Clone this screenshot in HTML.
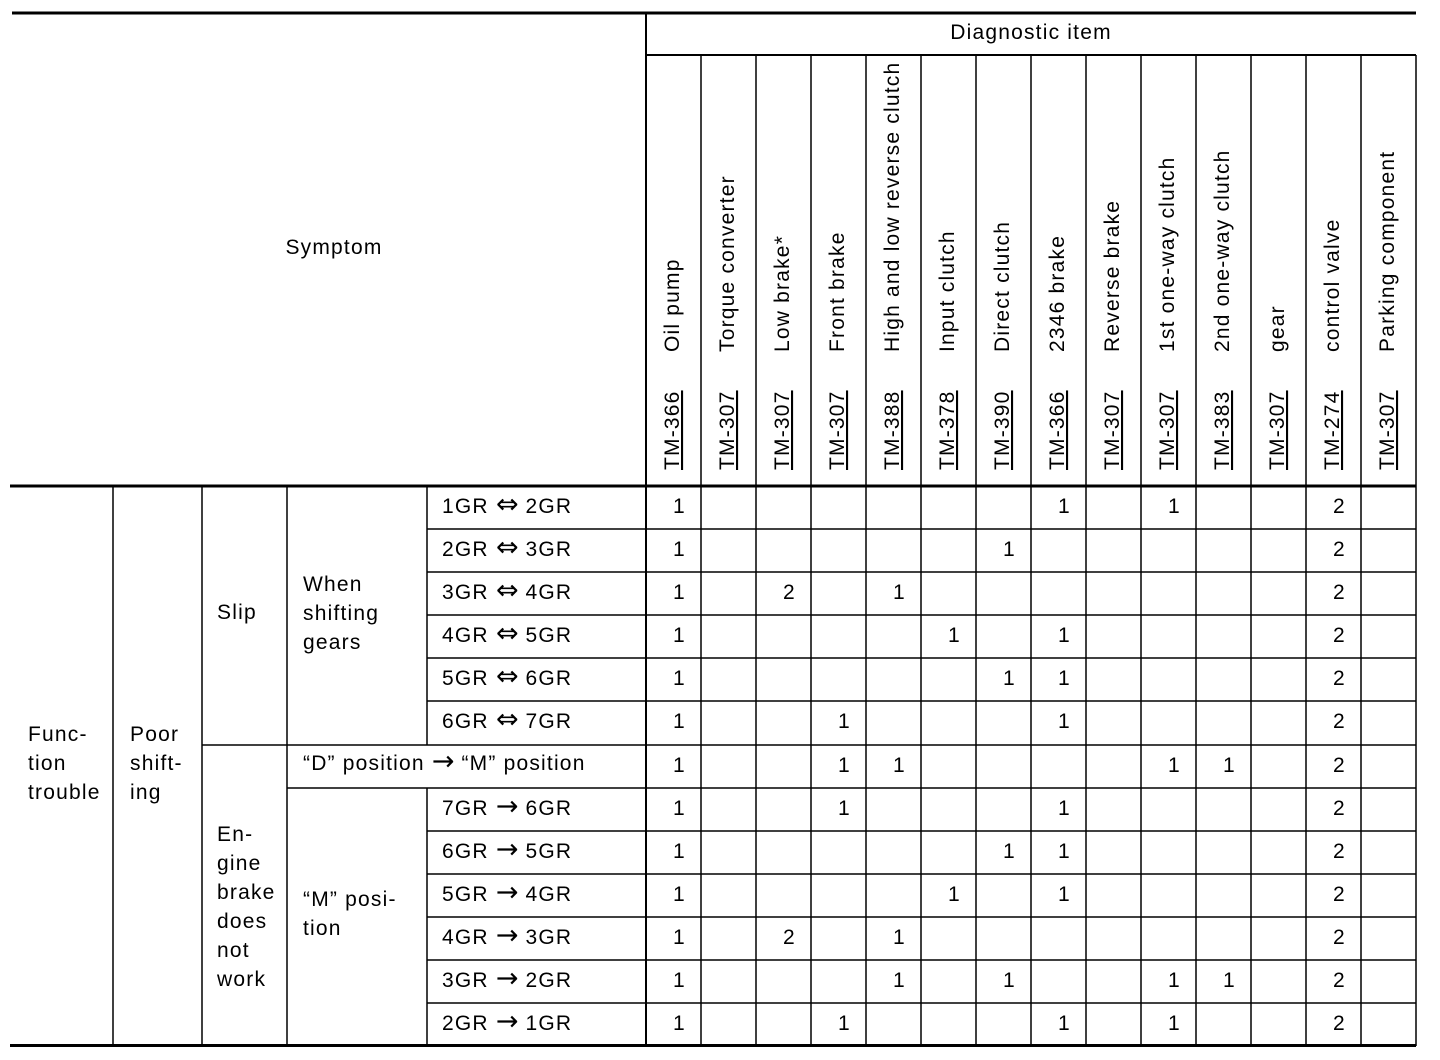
<!DOCTYPE html>
<html><head><meta charset="utf-8"><style>
html,body{margin:0;padding:0;background:#fff}
svg{display:block}
text{font-family:"Liberation Sans",Arial,sans-serif;font-size:21px;letter-spacing:1.2px;fill:#000}
.ar{font-family:"DejaVu Sans",sans-serif;letter-spacing:0;font-size:27px}
</style></head><body>
<svg width="1440" height="1060" viewBox="0 0 1440 1060" xmlns="http://www.w3.org/2000/svg">
<g stroke="#000" fill="none">
<line x1="12" y1="13" x2="1416" y2="13" stroke-width="3"/>
<line x1="10" y1="486" x2="1416" y2="486" stroke-width="3"/>
<line x1="10" y1="1045.5" x2="1416" y2="1045.5" stroke-width="3"/>
<line x1="646" y1="55" x2="1416" y2="55" stroke-width="2"/>
<line x1="646" y1="13" x2="646" y2="1046" stroke-width="2"/>
<line x1="113" y1="486" x2="113" y2="1046" stroke-width="1.5"/>
<line x1="202" y1="486" x2="202" y2="1046" stroke-width="1.5"/>
<line x1="287" y1="486" x2="287" y2="1046" stroke-width="1.5"/>
<line x1="427" y1="486" x2="427" y2="745" stroke-width="1.5"/>
<line x1="427" y1="788" x2="427" y2="1046" stroke-width="1.5"/>
<line x1="202" y1="745" x2="1416" y2="745" stroke-width="1.5"/>
<line x1="287" y1="788" x2="1416" y2="788" stroke-width="1.5"/>
</g>
<g id="grid" stroke="#000" stroke-width="1.5"></g>
<g id="txt"></g>
<text x="334" y="254" text-anchor="middle">Symptom</text>
<text x="1031" y="39" text-anchor="middle">Diagnostic item</text>
<text x="28" y="741">Func-</text><text x="28" y="770">tion</text><text x="28" y="799">trouble</text>
<text x="130" y="741">Poor</text><text x="130" y="770">shift-</text><text x="130" y="799">ing</text>
<text x="217" y="619">Slip</text>
<text x="303" y="591">When</text><text x="303" y="620">shifting</text><text x="303" y="649">gears</text>
<text x="217" y="841">En-</text><text x="217" y="870">gine</text><text x="217" y="899">brake</text><text x="217" y="928">does</text><text x="217" y="957">not</text><text x="217" y="986">work</text>
<text x="303" y="906">“M” posi-</text><text x="303" y="935">tion</text>
<text x="303" y="770">“D” position <tspan class="ar">→</tspan> “M” position</text>
</svg>
<script>
const ns="http://www.w3.org/2000/svg";
const grid=document.getElementById('grid'),txt=document.getElementById('txt');
function L(x1,y1,x2,y2){const l=document.createElementNS(ns,'line');l.setAttribute('x1',x1);l.setAttribute('y1',y1);l.setAttribute('x2',x2);l.setAttribute('y2',y2);grid.appendChild(l);}
function T(x,y,s,attrs){const t=document.createElementNS(ns,'text');t.setAttribute('x',x);t.setAttribute('y',y);t.textContent=s;for(const k in (attrs||{}))t.setAttribute(k,attrs[k]);txt.appendChild(t);return t;}
const cw=(1416-646)/14;
for(let i=1;i<=14;i++){const x=646+cw*i;L(x,55,x,1046);}
const rows=[486,529,572,615,658,701,745,788,831,874,917,960,1003,1046];
for(let i=1;i<13;i++){if(i==6||i==7)continue;const y=rows[i];L(427,y,1416,y);}
const names=["Oil pump","Torque converter","Low brake*","Front brake","High and low reverse clutch","Input clutch","Direct clutch","2346 brake","Reverse brake","1st one-way clutch","2nd one-way clutch","gear","control valve","Parking component"];
const codes=["TM-366","TM-307","TM-307","TM-307","TM-388","TM-378","TM-390","TM-366","TM-307","TM-307","TM-383","TM-307","TM-274","TM-307"];
for(let i=0;i<14;i++){const x=646+cw*i+33;
T(0,0,names[i],{transform:`translate(${x},352) rotate(-90)`});
T(0,0,codes[i],{transform:`translate(${x},470) rotate(-90)`,'text-decoration':'underline'});}
const gears=[["1GR","⇔","2GR"],["2GR","⇔","3GR"],["3GR","⇔","4GR"],["4GR","⇔","5GR"],["5GR","⇔","6GR"],["6GR","⇔","7GR"],null,["7GR","→","6GR"],["6GR","→","5GR"],["5GR","→","4GR"],["4GR","→","3GR"],["3GR","→","2GR"],["2GR","→","1GR"]];
const data=[{0:1,7:1,9:1,12:2},{0:1,6:1,12:2},{0:1,2:2,4:1,12:2},{0:1,5:1,7:1,12:2},{0:1,6:1,7:1,12:2},{0:1,3:1,7:1,12:2},{0:1,3:1,4:1,9:1,10:1,12:2},{0:1,3:1,7:1,12:2},{0:1,6:1,7:1,12:2},{0:1,5:1,7:1,12:2},{0:1,2:2,4:1,12:2},{0:1,4:1,6:1,9:1,10:1,12:2},{0:1,3:1,7:1,9:1,12:2}];
for(let r=0;r<13;r++){const y=rows[r]+27;
if(gears[r]){const t=T(442,y,"");
 t.appendChild(document.createTextNode(gears[r][0]+" "));
 const s=document.createElementNS(ns,'tspan');s.setAttribute('class','ar');s.textContent=gears[r][1];t.appendChild(s);
 t.appendChild(document.createTextNode(" "+gears[r][2]));}
for(const c in data[r])T(646+cw*c+cw/2+6,y,String(data[r][c]),{'text-anchor':'middle'});}
</script>
</body></html>
